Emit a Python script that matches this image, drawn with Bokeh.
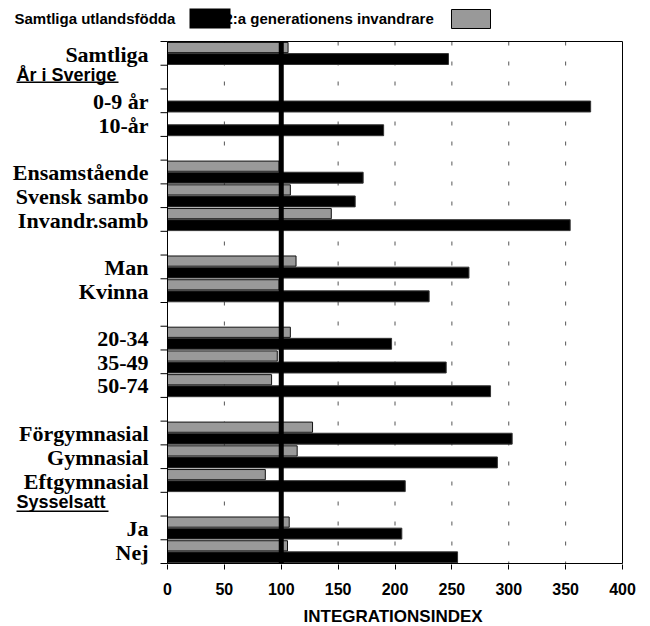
from bokeh.plotting import figure
from bokeh.models import Range1d, FixedTicker, ColumnDataSource, Title
from bokeh.core.properties import value
from bokeh.embed import file_html
from bokeh.resources import INLINE

# ---------------- data ----------------
categories = ["Samtliga", "", "0-9 år", "10-år", "", "Ensamstående", "Svensk sambo",
              "Invandr.samb", "", "Man", "Kvinna", "", "20-34", "35-49", "50-74", "",
              "Förgymnasial", "Gymnasial", "Eftgymnasial", "", "Ja", "Nej"]
samtliga_utlandsfodda = [247, None, 372, 190, None, 172, 165, 354, None, 265, 230, None,
                         197, 245, 284, None, 303, 290, 209, None, 206, 255]
andra_generationen = [106, None, None, None, None, 98, 108, 144, None, 113, 98, None,
                      108, 96.5, 91.5, None, 127.5, 114, 86, None, 107, 105.5]
section_headers = ["År i Sverige", "Sysselsatt"]
section_slots = [1, 19]
series_names = ["Samtliga utlandsfödda", "2:a generationens invandrare"]
x_ticks = [0, 50, 100, 150, 200, 250, 300, 350, 400]
grid_values = [50, 150, 200, 250, 300, 350]
reference_value = 100
x_min, x_max = 0, 400
x_title = "INTEGRATIONSINDEX"

# ---------------- layout (pixels of the page) ----------------
N = len(categories)
W, H = 650, 626
PLOT_L, PLOT_R, PLOT_T, PLOT_B = 167, 622, 41, 563
FRAME_H = 564
SX = (PLOT_R - PLOT_L) / float(x_max - x_min)
SY = (PLOT_B - PLOT_T) / float(N)


def dx(px):
    return x_min + (px - PLOT_L) / SX


def dy(py):
    return (py - PLOT_T) / SY - 0.5


SANS = "Liberation Sans"
SERIF = "Liberation Serif"

p = figure(frame_width=W, frame_height=FRAME_H,
           min_border_left=0, min_border_right=0, min_border_top=0,
           min_border_bottom=0,
           x_range=Range1d(dx(0), dx(W)), y_range=Range1d(dy(FRAME_H), dy(0)),
           y_axis_location=None,
           output_backend="svg", toolbar_location=None, tools="")
p.background_fill_color = "white"
p.border_fill_color = "white"
p.outline_line_color = None
p.xgrid.visible = False
p.ygrid.visible = False

top_y, bot_y = -0.5, N - 0.5

# dashed vertical gridlines
p.segment(x0=grid_values, x1=grid_values, y0=[top_y] * len(grid_values),
          y1=[bot_y] * len(grid_values), line_color="#555555", line_width=1,
          line_dash="4 16")

# bars
gi = [i for i, v in enumerate(andra_generationen) if v is not None]
gsrc = ColumnDataSource(dict(y=[i - 0.245 for i in gi], right=[andra_generationen[i] for i in gi]))
bi = [i for i, v in enumerate(samtliga_utlandsfodda) if v is not None]
bsrc = ColumnDataSource(dict(y=[i + 0.24 for i in bi], right=[samtliga_utlandsfodda[i] for i in bi]))
p.hbar(y="y", left=x_min, right="right", height=0.43, source=gsrc,
       fill_color="#999999", line_color="#111111", line_width=1)
p.hbar(y="y", left=x_min, right="right", height=0.46, source=bsrc,
       fill_color="black", line_color="#333333", line_width=1)

# reference line at 100
p.segment(x0=[reference_value], x1=[reference_value], y0=[top_y], y1=[bot_y],
          line_color="black", line_width=5)

# plot border
p.quad(left=[x_min], right=[x_max], top=[top_y], bottom=[bot_y],
       fill_color=None, line_color="black", line_width=1)

# y axis ticks at slot boundaries
bounds = [i - 0.5 for i in range(N + 1)]
p.segment(x0=[dx(160)] * len(bounds), x1=[x_min] * len(bounds), y0=bounds, y1=bounds,
          line_color="black", line_width=1)

# category labels
centers = [i for i, c in enumerate(categories) if c]
p.text(x=[dx(148)] * len(centers), y=[i + 0.04 for i in centers],
       text=[categories[i] for i in centers], text_font=value(SERIF),
       text_font_style="bold", text_font_size=value("22px"), text_color="black",
       text_align="right", text_baseline="middle")

# section headers (underlined)
header_centers = [74, 501.5]
underline_y = [81, 510]
header_widths = [102, 92]
p.text(x=[dx(16)] * len(section_headers), y=[dy(c) for c in header_centers],
       text=section_headers, text_font=value(SANS), text_font_style="bold",
       text_font_size=value("18px"), text_color="black", text_align="left",
       text_baseline="middle")
p.quad(left=[dx(16)] * 2, right=[dx(16 + w) for w in header_widths],
       top=[dy(u) for u in underline_y], bottom=[dy(u + 1.6) for u in underline_y],
       fill_color="black", line_color=None)

# legend: texts first, swatches drawn over them as in the original
p.text(x=[dx(14), dx(224)], y=[dy(17.5), dy(17.5)], text=series_names,
       text_font=value(SANS), text_font_style="bold", text_font_size=value("15px"),
       text_color="black", text_align="left", text_baseline="middle")
p.quad(left=[dx(189)], right=[dx(230)], top=[dy(8)], bottom=[dy(28)],
       fill_color="black", line_color=None)
p.quad(left=[dx(451)], right=[dx(490)], top=[dy(9)], bottom=[dy(28)],
       fill_color="#999999", line_color="black", line_width=1)

# x axis
xa = p.xaxis[0]
xa.ticker = FixedTicker(ticks=x_ticks)
xa.axis_line_color = None
xa.major_tick_out = 5
xa.major_tick_in = 0
xa.minor_tick_out = 0
xa.minor_tick_in = 0
xa.major_tick_line_color = "black"
xa.major_label_text_font = SANS
xa.major_label_text_font_style = "bold"
xa.major_label_text_font_size = "16px"
xa.major_label_text_color = "black"
xa.major_label_standoff = 13

p.add_layout(Title(text=x_title, align="left", offset=303, standoff=14,
                   text_font=SANS, text_font_style="bold", text_font_size="17px",
                   text_color="black"), "below")

open("out.html", "w").write(file_html(p, INLINE))
